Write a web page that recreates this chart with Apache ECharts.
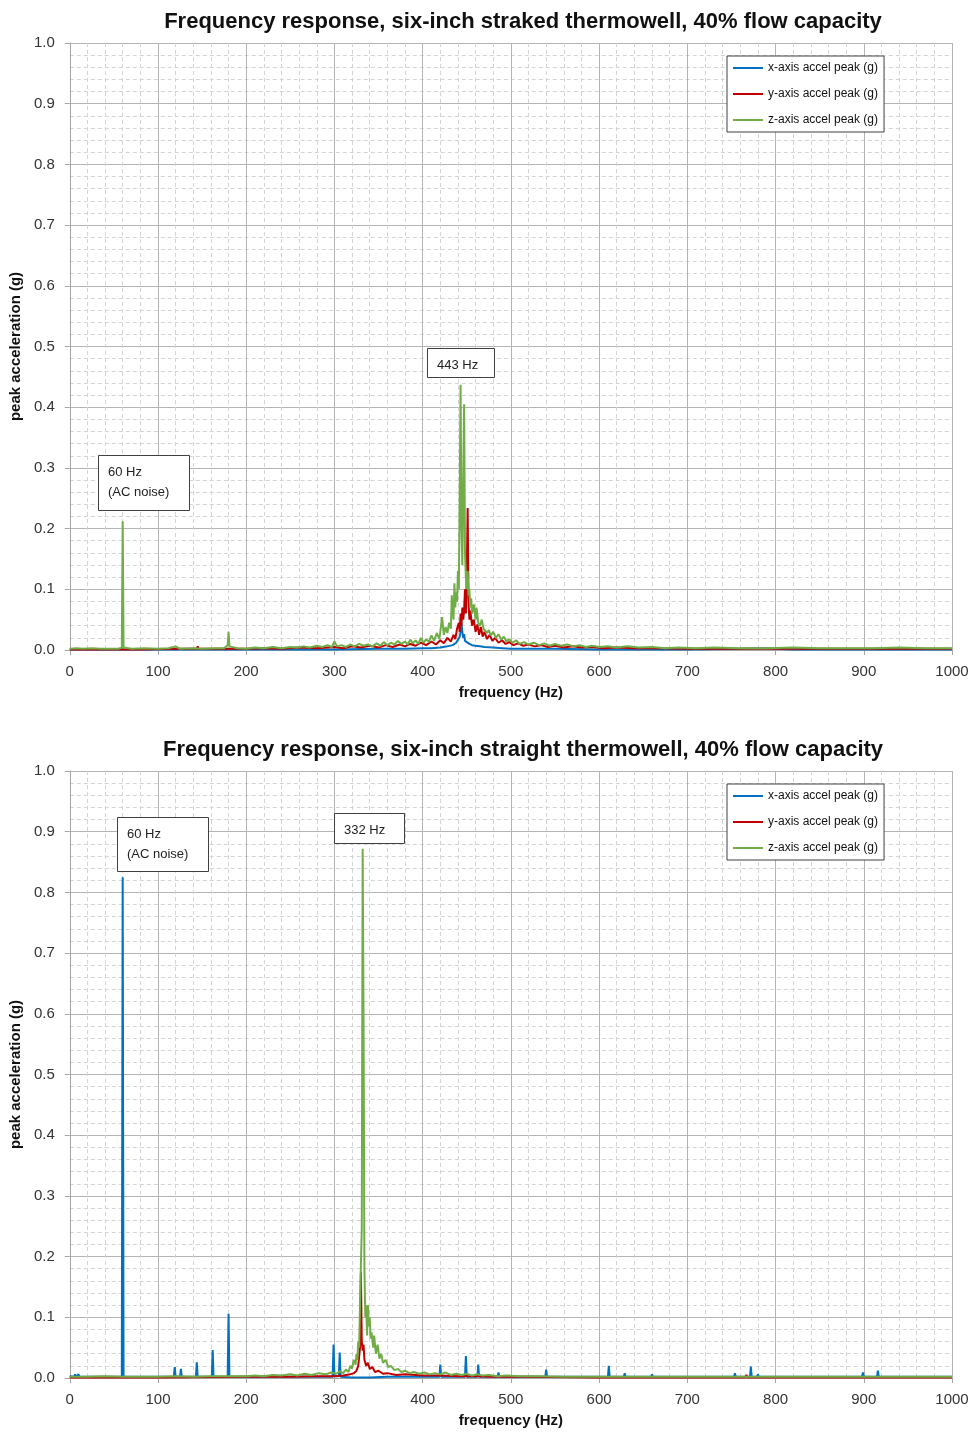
<!DOCTYPE html>
<html><head><meta charset="utf-8">
<script src="https://cdn.jsdelivr.net/npm/echarts@6/dist/echarts.min.js"></script>
<style>html,body{margin:0;padding:0;background:#fff}#c{width:972px;height:1433px}</style>
</head><body><div id="c"></div>
<script>
// ---- data (frequency Hz, peak acceleration g) ----
const seriesNames = ['x-axis accel peak (g)', 'y-axis accel peak (g)', 'z-axis accel peak (g)'];
const titles = ['Frequency response, six-inch straked thermowell, 40% flow capacity',
                'Frequency response, six-inch straight thermowell, 40% flow capacity'];
const xTicks = [0,100,200,300,400,500,600,700,800,900,1000];
const yTicks = [0,0.1,0.2,0.3,0.4,0.5,0.6,0.7,0.8,0.9,1.0];

// straked thermowell
const strakedX = [[0,0.001],[100,0.001],[200,0.001],[300,0.001],[350,0.002],[380,0.002],[400,0.003],[410,0.003],[420,0.004],[428,0.006],[434,0.008],[438,0.012],[440,0.015],[442,0.022],[443,0.03],[444,0.044],[445,0.03],[446,0.02],[447,0.026],[448,0.015],[450,0.012],[453,0.01],[456,0.008],[460,0.007],[465,0.006],[470,0.005],[480,0.004],[490,0.003],[500,0.002],[520,0.002],[550,0.002],[600,0.001],[700,0.001],[760,0.002],[790,0.003],[820,0.001],[900,0.001],[1000,0.001]];
const strakedY = [[0,0.001],[40,0.001],[80,0.001],[120,0.002],[144,0.002],[145,0.006],[146,0.002],[170,0.002],[200,0.002],[220,0.003],[240,0.002],[260,0.004],[280,0.003],[300,0.005],[310,0.003],[320,0.006],[330,0.004],[340,0.007],[350,0.004],[358,0.008],[366,0.005],[374,0.009],[380,0.006],[386,0.01],[392,0.007],[398,0.012],[404,0.008],[410,0.014],[415,0.009],[420,0.016],[424,0.011],[428,0.02],[432,0.014],[435,0.025],[437,0.018],[439,0.035],[441,0.045],[442,0.03],[443,0.06],[444,0.04],[445,0.07],[446,0.05],[447,0.065],[448,0.1],[449,0.06],[450,0.12],[451,0.234],[452,0.08],[453,0.05],[454,0.065],[456,0.04],[458,0.05],[460,0.03],[462,0.042],[464,0.025],[466,0.038],[468,0.022],[470,0.03],[473,0.018],[476,0.025],[479,0.015],[482,0.02],[486,0.012],[490,0.016],[494,0.01],[498,0.013],[503,0.008],[508,0.011],[514,0.007],[520,0.009],[527,0.006],[534,0.008],[542,0.005],[550,0.007],[560,0.004],[570,0.006],[580,0.004],[592,0.005],[605,0.003],[620,0.004],[640,0.003],[660,0.003],[700,0.002],[750,0.002],[800,0.002],[850,0.002],[900,0.002],[950,0.002],[1000,0.002]];
const strakedZ = [[0,0.002],[8,0.003],[15,0.002],[25,0.003],[35,0.002],[45,0.002],[55,0.002],[59,0.004],[60,0.212],[61,0.004],[70,0.002],[85,0.003],[100,0.002],[112,0.003],[120,0.006],[125,0.002],[140,0.003],[150,0.002],[165,0.003],[175,0.003],[179,0.008],[180,0.03],[181,0.006],[190,0.003],[200,0.002],[210,0.004],[220,0.003],[230,0.005],[240,0.003],[250,0.005],[258,0.004],[265,0.006],[272,0.004],[280,0.007],[286,0.005],[292,0.008],[297,0.005],[300,0.014],[303,0.006],[308,0.008],[313,0.005],[318,0.009],[323,0.006],[328,0.01],[333,0.007],[338,0.009],[343,0.006],[348,0.011],[352,0.007],[356,0.013],[360,0.008],[364,0.012],[368,0.009],[372,0.015],[376,0.01],[380,0.014],[383,0.009],[386,0.017],[389,0.011],[392,0.016],[395,0.01],[398,0.02],[401,0.012],[404,0.018],[407,0.013],[410,0.024],[413,0.015],[416,0.028],[419,0.018],[422,0.054],[424,0.025],[426,0.038],[428,0.028],[430,0.045],[432,0.035],[433,0.09],[435,0.05],[436,0.11],[437,0.07],[438,0.095],[439,0.08],[440,0.13],[441,0.1],[442,0.25],[443,0.437],[444,0.2],[445,0.14],[446,0.28],[447,0.405],[448,0.16],[449,0.12],[450,0.1],[451,0.13],[452,0.09],[453,0.1],[454,0.07],[455,0.085],[456,0.06],[458,0.075],[460,0.05],[461,0.07],[463,0.045],[465,0.04],[467,0.05],[469,0.035],[471,0.038],[473,0.028],[475,0.033],[477,0.024],[480,0.03],[483,0.02],[486,0.026],[489,0.017],[492,0.022],[495,0.014],[498,0.018],[502,0.012],[506,0.016],[510,0.01],[515,0.013],[520,0.009],[526,0.012],[532,0.008],[538,0.011],[544,0.007],[550,0.01],[557,0.007],[564,0.009],[571,0.006],[578,0.008],[585,0.005],[592,0.007],[600,0.005],[610,0.006],[620,0.004],[632,0.006],[645,0.004],[660,0.005],[675,0.003],[690,0.004],[710,0.003],[730,0.004],[760,0.003],[790,0.003],[820,0.004],[850,0.003],[880,0.003],[910,0.003],[940,0.004],[970,0.003],[1000,0.003]];

// straight thermowell
const straightX = [[0,0.003],[1,0.006],[2,0.002],[5,0.002],[6,0.006],[7,0.002],[9,0.002],[10,0.006],[11,0.002],[16,0.002],[17,0.004],[18,0.002],[28,0.002],[29,0.003],[30,0.002],[40,0.002],[41,0.003],[42,0.002],[50,0.002],[59,0.002],[60,0.825],[61,0.002],[75,0.002],[76,0.003],[77,0.002],[84,0.002],[85,0.004],[86,0.002],[90,0.002],[91,0.004],[92,0.002],[118,0.002],[119,0.018],[120,0.002],[125,0.002],[126,0.015],[127,0.002],[143,0.002],[144,0.026],[145,0.002],[161,0.002],[162,0.046],[163,0.002],[179,0.002],[180,0.106],[181,0.002],[200,0.002],[250,0.002],[298,0.002],[299,0.055],[300,0.003],[305,0.003],[306,0.042],[307,0.002],[320,0.001],[330,0.001],[340,0.001],[360,0.002],[419,0.002],[420,0.022],[421,0.002],[448,0.002],[449,0.036],[450,0.002],[462,0.002],[463,0.022],[464,0.002],[485,0.002],[486,0.009],[487,0.002],[539,0.002],[540,0.014],[541,0.002],[610,0.002],[611,0.02],[612,0.002],[628,0.002],[629,0.008],[630,0.002],[647,0.002],[648,0.005],[649,0.002],[659,0.002],[660,0.006],[661,0.002],[665,0.002],[666,0.005],[667,0.002],[702,0.002],[703,0.004],[704,0.002],[716,0.002],[717,0.004],[718,0.002],[753,0.002],[754,0.008],[755,0.002],[771,0.002],[772,0.019],[773,0.002],[779,0.002],[780,0.006],[781,0.002],[790,0.002],[791,0.004],[792,0.002],[898,0.002],[899,0.009],[900,0.002],[915,0.002],[916,0.012],[917,0.002],[933,0.002],[934,0.004],[935,0.002],[952,0.002],[953,0.004],[954,0.002],[970,0.002],[971,0.005],[972,0.002],[1000,0.002]];
const straightY = [[0,0.001],[100,0.001],[200,0.002],[250,0.002],[280,0.003],[300,0.003],[310,0.004],[318,0.006],[322,0.008],[325,0.012],[327,0.02],[328,0.035],[329,0.05],[330,0.175],[331,0.06],[332,0.045],[333,0.055],[334,0.03],[336,0.02],[338,0.025],[340,0.015],[343,0.018],[346,0.01],[350,0.012],[355,0.007],[360,0.008],[370,0.005],[380,0.006],[400,0.004],[420,0.004],[440,0.003],[460,0.003],[480,0.002],[520,0.002],[600,0.001],[700,0.001],[766,0.001],[767,0.005],[768,0.001],[800,0.001],[900,0.001],[1000,0.001]];
const straightZ = [[0,0.002],[20,0.002],[40,0.003],[60,0.002],[80,0.002],[100,0.002],[120,0.003],[140,0.002],[160,0.003],[180,0.003],[200,0.003],[210,0.004],[220,0.003],[230,0.005],[240,0.004],[250,0.006],[258,0.004],[266,0.007],[274,0.005],[282,0.008],[290,0.006],[296,0.009],[302,0.007],[306,0.011],[310,0.008],[313,0.014],[316,0.01],[318,0.02],[320,0.016],[322,0.03],[324,0.022],[325,0.04],[326,0.03],[327,0.06],[328,0.05],[329,0.12],[330,0.185],[331,0.247],[332,0.872],[333,0.59],[334,0.18],[335,0.1],[336,0.12],[337,0.07],[338,0.12],[339,0.085],[340,0.1],[341,0.065],[342,0.075],[344,0.05],[345,0.07],[347,0.04],[349,0.055],[351,0.032],[353,0.04],[355,0.025],[358,0.03],[361,0.018],[364,0.02],[368,0.013],[372,0.015],[376,0.01],[380,0.012],[385,0.008],[390,0.01],[396,0.007],[402,0.009],[408,0.006],[414,0.008],[420,0.006],[426,0.009],[432,0.005],[438,0.007],[444,0.005],[450,0.007],[456,0.004],[462,0.006],[468,0.004],[475,0.005],[485,0.003],[495,0.004],[510,0.003],[530,0.003],[560,0.002],[600,0.002],[700,0.002],[800,0.002],[900,0.002],[1000,0.002]];

const annotations = [['443 Hz'], ['60 Hz', '(AC noise)'], ['60 Hz', '(AC noise)'], ['332 Hz']];

// ---- chart ----
const colors = ['#0070C0', '#C00000', '#70AD47'];
const FONT = 'Liberation Sans';
const gridTops = [43, 771];
const chart = echarts.init(document.getElementById('c'), null, {renderer: 'canvas'});

function xAxisCfg(i) {
  return {
    type: 'value', gridIndex: i, min: xTicks[0], max: xTicks[xTicks.length - 1], interval: xTicks[1] - xTicks[0],
    name: 'frequency (Hz)', nameLocation: 'middle', nameGap: 35,
    nameTextStyle: {fontFamily: FONT, fontWeight: 'bold', fontSize: 15, color: '#111'},
    axisLine: {show: true, onZero: false, lineStyle: {color: '#a6a6a6', width: 1}},
    axisTick: {show: true, length: 5, lineStyle: {color: '#a6a6a6'}},
    axisLabel: {fontFamily: FONT, fontSize: 15, color: '#333', margin: 14, formatter: v => String(v)},
    splitLine: {show: true, lineStyle: {color: '#b4b4b4', width: 1}},
    minorTick: {show: false, splitNumber: 5},
    minorSplitLine: {show: true, lineStyle: {color: '#d4d4d4', type: [4, 3], width: 1}}
  };
}
function yAxisCfg(i) {
  return {
    type: 'value', gridIndex: i, min: yTicks[0], max: yTicks[yTicks.length - 1], interval: 0.1,
    name: 'peak acceleration (g)', nameLocation: 'middle', nameGap: 40,
    nameTextStyle: {fontFamily: FONT, fontWeight: 'bold', fontSize: 15, color: '#111'},
    axisLine: {show: true, lineStyle: {color: '#a6a6a6', width: 1}},
    axisTick: {show: true, length: 5, lineStyle: {color: '#a6a6a6'}},
    axisLabel: {fontFamily: FONT, fontSize: 15, color: '#333', margin: 15, formatter: v => v.toFixed(1)},
    splitLine: {show: true, lineStyle: {color: '#b4b4b4', width: 1}},
    minorTick: {show: false, splitNumber: 5},
    minorSplitLine: {show: true, lineStyle: {color: '#d4d4d4', type: [4, 3], width: 1}}
  };
}
function lineSeries(name, data, idx, color) {
  return {
    name, type: 'line', data, xAxisIndex: idx, yAxisIndex: idx, showSymbol: false, symbol: 'none',
    lineStyle: {color, width: 2}, itemStyle: {color}, animation: false, z: 2
  };
}
function legendCfg(top) {
  return {
    data: seriesNames, orient: 'vertical', left: 727, top, itemWidth: 30, itemHeight: 2, icon: 'rect',
    itemGap: 12, padding: [5, 6, 5, 6], borderColor: '#404040', borderWidth: 1, backgroundColor: '#fff',
    textStyle: {fontFamily: FONT, fontSize: 12, color: '#111', lineHeight: 14}, selectedMode: false
  };
}
function box(x, y, w, h, lines) {
  return [
    {type: 'rect', left: x, top: y, shape: {width: w, height: h}, z: 100,
     style: {fill: '#fff', stroke: '#404040', lineWidth: 1}},
    {type: 'text', left: x + 10, top: y + 7, z: 101,
     style: {text: lines.join('\n'), fill: '#222', font: '13px "' + FONT + '"', lineHeight: 20}}
  ];
}

const option = {
  backgroundColor: '#fff',
  animation: false,
  title: titles.map((t, i) => ({
    text: t, left: 518, textAlign: 'center', top: gridTops[i] - 37,
    textStyle: {fontFamily: FONT, fontWeight: 'bold', fontSize: 22, color: '#111'}
  })),
  legend: [legendCfg(56), legendCfg(784)],
  grid: gridTops.map(t => ({left: 66, right: 20, top: t, height: 607, containLabel: false})),
  xAxis: [xAxisCfg(0), xAxisCfg(1)],
  yAxis: [yAxisCfg(0), yAxisCfg(1)],
  series: [
    lineSeries(seriesNames[0], strakedX, 0, colors[0]),
    lineSeries(seriesNames[1], strakedY, 0, colors[1]),
    lineSeries(seriesNames[2], strakedZ, 0, colors[2]),
    lineSeries(seriesNames[0], straightX, 1, colors[0]),
    lineSeries(seriesNames[1], straightY, 1, colors[1]),
    lineSeries(seriesNames[2], straightZ, 1, colors[2])
  ],
  graphic: [].concat(
    box(427, 348, 67, 29, annotations[0]),
    box(98, 455, 91, 55, annotations[1]),
    box(117, 817, 91, 54, annotations[2]),
    box(334, 813, 70, 30, annotations[3])
  )
};
chart.setOption(option);
</script></body></html>
